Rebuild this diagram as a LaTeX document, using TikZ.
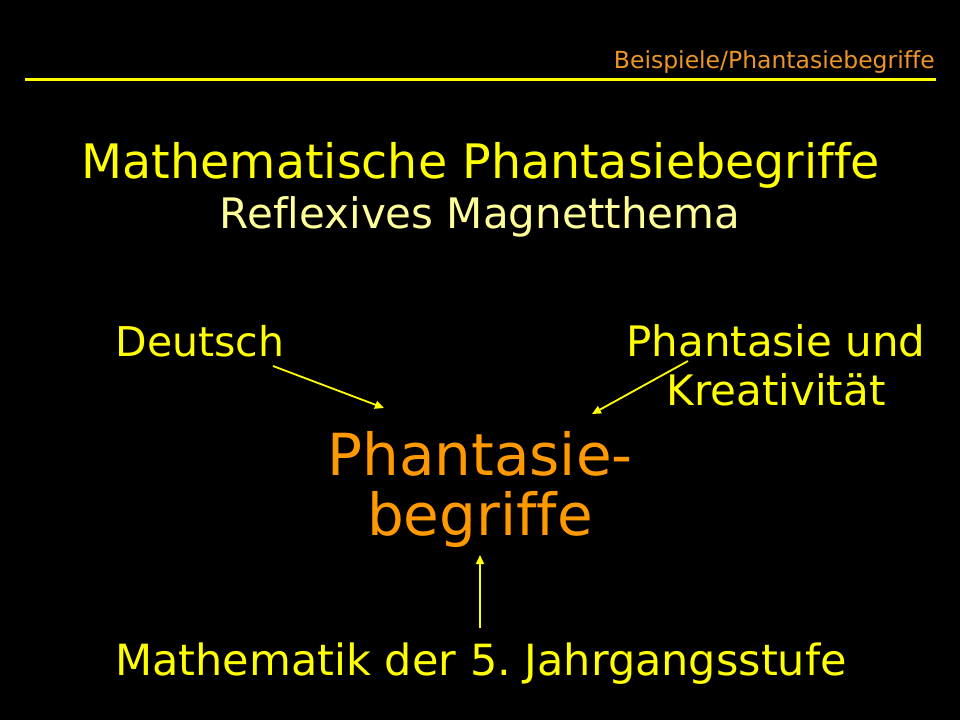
\documentclass[tikz,border=0pt]{standalone}
\usepackage{fontspec}
\setmainfont[Ligatures=NoCommon]{DejaVu Sans}
\definecolor{ylw}{RGB}{255,255,0}
\definecolor{paleylw}{RGB}{255,255,153}
\definecolor{orng}{RGB}{255,153,0}
\definecolor{hdrorng}{RGB}{236,150,40}
\usetikzlibrary{arrows.meta}
\tikzset{
  txt/.style={inner sep=0pt, anchor=base},
  conn/.style={draw=ylw, line width=1.8pt, -{Triangle[length=9pt,width=8pt]}},
}
\frenchspacing
\begin{document}
\begin{tikzpicture}[x=1pt,y=-1pt]
\fill[black] (0,0) rectangle (960,720);
\useasboundingbox (0,0) rectangle (960,720);
\node[txt, anchor=base east, text=hdrorng, font=\fontsize{23.5}{28}\selectfont] (hdr) at (935,68) {Beispiele/Phantasiebegriffe};
\draw[ylw, line width=3pt] (25,79) coordinate (l1) -- (936,79) coordinate (l2);
\node[txt, text=ylw, font=\fontsize{47.5}{56}\selectfont] (title) at (481,178) {Mathematische Phantasiebegriffe};
\node[txt, text=paleylw, font=\fontsize{42}{50}\selectfont] (sub) at (480,228) {Reflexives Magnetthema};
\node[txt, text=ylw, font=\fontsize{41}{50}\selectfont] (de) at (200,356) {Deutsch};
\node[txt, text=ylw, font=\fontsize{42}{50}\selectfont] (ph1) at (776,356) {Phantasie und};
\node[txt, text=ylw, font=\fontsize{42}{50}\selectfont] (ph2) at (776,405) {Kreativität};
\node[txt, text=orng, font=\fontsize{58}{60}\selectfont] (pb1) at (480,475) {Phantasie-};
\node[txt, text=orng, font=\fontsize{58}{60}\selectfont] (pb2) at (480,535) {begriffe};
\node[txt, text=ylw, font=\fontsize{43}{50}\selectfont] (ma) at (481,675) {Mathematik der 5. Jahrgangsstufe};
\coordinate (a1s) at (273,366); \coordinate (a1e) at (384,408);
\coordinate (a2s) at (688,361); \coordinate (a2e) at (592,414);
\coordinate (a3s) at (480,628); \coordinate (a3e) at (480,555);
\draw[conn] (a1s) -- (a1e);
\draw[conn] (a2s) -- (a2e);
\draw[conn] (a3s) -- (a3e);
\end{tikzpicture}
\end{document}
